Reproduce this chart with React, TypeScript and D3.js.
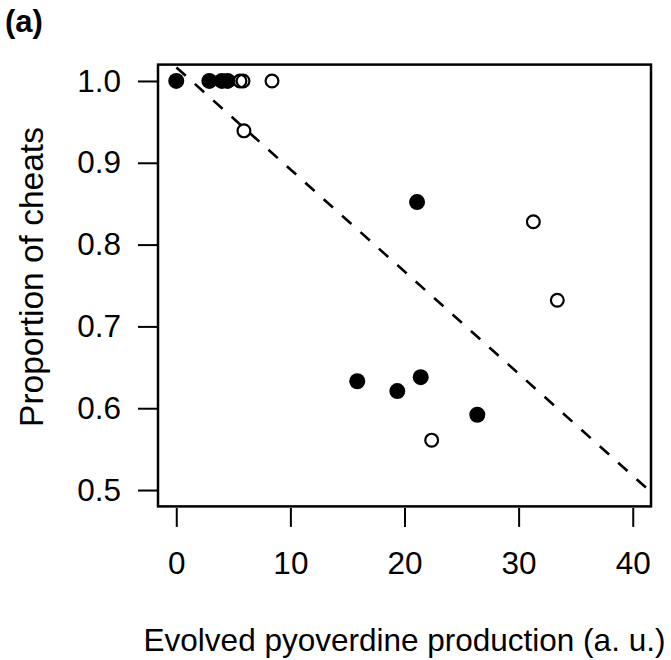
import { axisBottom, axisLeft, line, scaleLinear, select } from 'd3';
import React, { useEffect, useRef } from 'react';

// points: filled = pch 16, open = pch 1
const filledX = [0, 2.9, 4.0, 4.5, 15.86, 19.37, 21.1, 21.42, 26.38];
const filledY = [1.0, 1.0, 1.0, 1.0, 0.633, 0.621, 0.852, 0.638, 0.592];
const openX = [5.58, 5.85, 8.39, 5.93, 22.38, 31.29, 33.39];
const openY = [1.0, 1.0, 1.0, 0.939, 0.561, 0.828, 0.732];

// fitted line (abline)
const fitIntercept = 1.0167;
const fitSlope = -0.01248;

const xTicks = [0, 10, 20, 30, 40];
const yTicks = [0.5, 0.6, 0.7, 0.8, 0.9, 1.0];
const xLim = [0, 40];
const yLim = [0.5, 1.0];

const width = 671;
const height = 660;
const font = '"Liberation Sans", Arial, Helvetica, sans-serif';

const App: React.FC = () => {
  const svgRef = useRef<SVGSVGElement>(null);

  useEffect(() => {
    const svg = select(svgRef.current);
    svg.selectAll('*').remove();

    // R style 4% axis extension
    const xPad = (xLim[1] - xLim[0]) * 0.04;
    const yPad = (yLim[1] - yLim[0]) * 0.04;
    const xScale = scaleLinear()
      .domain([xLim[0] - xPad, xLim[1] + xPad])
      .range([158, 651]);
    const yScale = scaleLinear()
      .domain([yLim[0] - yPad, yLim[1] + yPad])
      .range([506.4, 64.6]);

    const [left, right] = xScale.range();
    const [bottom, top] = yScale.range();

    svg
      .append('clipPath')
      .attr('id', 'plot-clip')
      .append('rect')
      .attr('x', left)
      .attr('y', top)
      .attr('width', right - left)
      .attr('height', bottom - top);

    // Axes
    const yAxis = axisLeft(yScale)
      .tickValues(yTicks)
      .tickSize(20)
      .tickPadding(17)
      .tickFormat((d) => (d as number).toFixed(1));
    const gy = svg
      .append('g')
      .attr('transform', `translate(${left},0)`)
      .call(yAxis);
    gy.select('.domain').remove();
    gy.selectAll('line').attr('stroke', '#000').attr('stroke-width', 2);
    gy.selectAll('text')
      .attr('fill', '#000')
      .style('font-family', font)
      .style('font-size', '31.5px');

    const xAxis = axisBottom(xScale)
      .tickValues(xTicks)
      .tickSize(19)
      .tickPadding(25)
      .tickFormat((d) => `${d}`);
    const gx = svg
      .append('g')
      .attr('transform', `translate(0,${bottom + 1.5})`)
      .call(xAxis);
    gx.select('.domain').remove();
    gx.selectAll('line').attr('stroke', '#000').attr('stroke-width', 2);
    gx.selectAll('text')
      .attr('fill', '#000')
      .style('font-family', font)
      .style('font-size', '31.5px');

    // Fitted dashed line
    const lineGen = line<number>()
      .x((d) => xScale(d))
      .y((d) => yScale(fitIntercept + fitSlope * d));
    svg
      .append('path')
      .attr('clip-path', 'url(#plot-clip)')
      .attr('d', lineGen(xScale.domain()))
      .attr('fill', 'none')
      .attr('stroke', '#000')
      .attr('stroke-width', 2.6)
      .attr('stroke-dasharray', '12.5 12.2');

    // Points
    svg
      .selectAll('.open-pt')
      .data(openX.map((x, i) => [x, openY[i]]))
      .join('circle')
      .attr('class', 'open-pt')
      .attr('cx', (d) => xScale(d[0]))
      .attr('cy', (d) => yScale(d[1]))
      .attr('r', 6.4)
      .attr('fill', 'none')
      .attr('stroke', '#000')
      .attr('stroke-width', 2.2);
    svg
      .selectAll('.filled-pt')
      .data(filledX.map((x, i) => [x, filledY[i]]))
      .join('circle')
      .attr('class', 'filled-pt')
      .attr('cx', (d) => xScale(d[0]))
      .attr('cy', (d) => yScale(d[1]))
      .attr('r', 8)
      .attr('fill', '#000');

    // Box
    svg
      .append('rect')
      .attr('x', left)
      .attr('y', top)
      .attr('width', right - left)
      .attr('height', bottom - top)
      .attr('fill', 'none')
      .attr('stroke', '#000')
      .attr('stroke-width', 2.5);

    // Labels
    svg
      .append('text')
      .attr('x', (left + right) / 2)
      .attr('y', 651)
      .attr('text-anchor', 'middle')
      .style('font-family', font)
      .style('font-size', '31.5px')
      .text('Evolved pyoverdine production (a. u.)');
    svg
      .append('text')
      .attr('transform', `translate(43, 277) rotate(-90)`)
      .attr('text-anchor', 'middle')
      .style('font-family', font)
      .style('font-size', '33.5px')
      .text('Proportion of cheats');
    svg
      .append('text')
      .attr('x', 5)
      .attr('y', 32)
      .style('font-family', font)
      .style('font-size', '31px')
      .style('font-weight', 'bold')
      .text('(a)');
  }, []);

  return (
    <svg
      ref={svgRef}
      width={width}
      height={height}
      style={{ position: 'absolute', left: 0, top: 0, background: '#fff' }}
    />
  );
};

export default App;
